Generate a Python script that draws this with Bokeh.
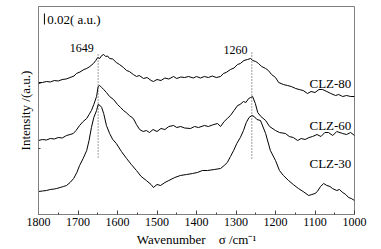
from bokeh.plotting import figure
from bokeh.models import Range1d, FixedTicker, Label, Title
from bokeh.embed import file_html
from bokeh.resources import INLINE

# ---------------- data ----------------
wn_80 = [1800,1790,1780,1770,1760,1750,1740,1730,1720,1710,
         1704,1695,1685,1678,1670,1661,1655,1650,1645,1640,
         1635,1630,1625,1620,1612,1603,1595,1585,1577,1570,
         1560,1552,1545,1534,1525,1515,1509,1500,1490,1480,
         1470,1458,1450,1440,1430,1420,1408,1400,1390,1380,
         1370,1360,1350,1339,1332,1325,1314,1305,1296,1289,
         1280,1271,1263,1258,1250,1243,1235,1225,1218,1210,
         1200,1192,1180,1170,1160,1149,1140,1130,1119,1110,
         1100,1090,1081,1070,1060,1048,1040,1030,1020,1010,
         1000]
int_80 = [132,132,133,132.5,134,133.5,135,135.5,137,138.5,
          141,142.5,145,146,148,151,154,157,156,159,
          160,158,158.5,156,155.5,152,150,147,144,143,
          140,138,139,136,137,134,133,135,134,136.5,
          135.5,138,136,137.5,137,138,136.5,138,136.5,138,
          137,138.5,137,138,141,142,145,146.5,150,151,
          154,155,156,154,153,151,148,146,144,140,
          137,132,130,129,128,126,125,124,121,123,
          122,125,125,123,121,119,120,118,119,118,
          118]

wn_60 = [1800,1790,1780,1770,1760,1750,1740,1729,1720,1712,
         1705,1696,1687,1678,1672,1666,1660,1653,1649,1645,
         1640,1635,1628,1620,1610,1600,1592,1585,1578,1570,
         1560,1552,1544,1535,1527,1519,1510,1500,1490,1480,
         1470,1458,1450,1440,1430,1415,1405,1395,1380,1370,
         1360,1347,1339,1330,1322,1314,1305,1296,1290,1281,
         1275,1268,1263,1258,1251,1245,1237,1225,1215,1200,
         1190,1175,1165,1155,1144,1135,1125,1115,1106,1095,
         1085,1075,1066,1055,1045,1030,1020,1010,1000]
int_60 = [74,75,74.5,76,75.5,77,76.5,79,80,81,
          84,89,93,96,100,104,110,118,128,129,
          127,125,122,118,115,110,107,104,102,99,
          96,90,85,83,84,82,85,83,86,85,
          88,89,87,88,86.5,86,88,87,89,88,
          89.5,91,88,93,96,99,104,109,110,113,
          112,116,117,118,111,102,98,94,88,84,
          82,81,78,77,74,76,75,77,78,80,
          78,82,82,79,83,81,80,82,79]

wn_30 = [1800,1790,1780,1770,1760,1754,1745,1737,1729,1720,
         1711,1703,1696,1687,1678,1672,1666,1660,1653,1649,
         1644,1640,1635,1628,1620,1612,1603,1590,1577,1565,
         1552,1540,1527,1515,1509,1500,1491,1480,1470,1455,
         1441,1425,1410,1398,1385,1372,1355,1339,1330,1322,
         1314,1306,1298,1289,1281,1274,1267,1260,1254,1247,
         1238,1225,1213,1200,1190,1180,1167,1155,1142,1130,
         1116,1108,1100,1094,1086,1078,1070,1062,1056,1045,
         1038,1030,1022,1015,1008,1000]
int_30 = [23,23.5,24,25,25.5,26,27,28,29,32,
          36,42,49,56,64,74,87,97,104,110,
          109,107,101,89,81,75,71,63,56,50,
          44,38,34,30,27,30,29,32,34,37,
          39,40,41,42,44,44,45,46,49,52,
          58,64,71,77,84,92,97,99,98,95,
          94,81,64,54,44,39,34,30,26,23,
          19,20,21,23,28,31,29,28,26,24,
          25,22,20,17,16,14]

series_names = ["CLZ-80", "CLZ-60", "CLZ-30"]
series_label_y = [131, 89, 51]
peak_positions = [1649, 1260]
peak_labels = ["1649", "1260"]
x_ticks = [1800, 1700, 1600, 1500, 1400, 1300, 1200, 1100, 1000]
x_minor = [1750, 1650, 1550, 1450, 1350, 1250, 1150, 1050]
scale_bar_text = "0.02( a.u.)"

FONT = "Liberation Serif"

p = figure(width=373, height=247, output_backend="svg", toolbar_location=None,
           x_range=Range1d(1800, 1000), y_range=Range1d(0, 208),
           frame_width=316, frame_height=208,
           min_border_left=38, min_border_right=19, min_border_top=6, min_border_bottom=33)
p.grid.visible = False
p.outline_line_color = "#808080"
p.outline_line_width = 1
p.background_fill_color = "white"
p.border_fill_color = "white"

# axes
xa = p.xaxis[0]
xa.ticker = FixedTicker(ticks=x_ticks, minor_ticks=x_minor)
xa.major_tick_in = 4
xa.major_tick_out = 0
xa.minor_tick_in = 2
xa.minor_tick_out = 0
xa.axis_line_color = "#808080"
xa.major_tick_line_color = "#404040"
xa.minor_tick_line_color = "#404040"
xa.major_label_text_font = FONT
xa.major_label_text_font_size = "12px"
xa.major_label_text_color = "black"
xa.major_label_standoff = 3
xa.axis_label = "Wavenumber\u2003σ /cm⁻¹"
xa.axis_label_text_font = FONT
xa.axis_label_text_font_size = "13px"
xa.axis_label_text_font_style = "normal"
xa.axis_label_text_color = "black"
xa.axis_label_standoff = 3

ya = p.yaxis[0]
ya.ticker = FixedTicker(ticks=[66, 131], minor_ticks=[])
ya.major_tick_in = 2
ya.major_tick_out = 0
ya.major_label_overrides = {66: "", 131: ""}
ya.major_label_standoff = 11
ya.axis_line_color = "#808080"
ya.major_tick_line_color = "#404040"

# y-axis title (shifted upward like the original)
p.add_layout(Title(text="Intensity /(a.u.)", align="center", offset=13, standoff=12,
                   text_font=FONT, text_font_size="13px", text_font_style="normal",
                   text_color="black"), "left")

# curves
for wn, iv in ((wn_80, int_80), (wn_60, int_60), (wn_30, int_30)):
    p.line(wn, iv, line_color="black", line_width=1)

# peak marker dotted lines
p.segment(x0=peak_positions, y0=[57, 56], x1=peak_positions, y1=[162, 162],
          line_color="#404040", line_width=1, line_dash="1 2")

for pos, lab, yy in zip(peak_positions, peak_labels, [167, 165]):
    p.add_layout(Label(x=pos + 11, y=yy, text=lab, text_align="right", text_baseline="middle",
                       text_font=FONT, text_font_size="12px", text_color="black"))

for name, yy in zip(series_names, series_label_y):
    p.add_layout(Label(x=1008, y=yy, text=name, text_align="right", text_baseline="middle",
                       text_font=FONT, text_font_size="13px", text_color="black"))

# scale bar
p.segment(x0=[1785], y0=[190], x1=[1785], y1=[201], line_color="black", line_width=1)
p.add_layout(Label(x=1778, y=195.5, text=scale_bar_text, text_align="left", text_baseline="middle",
                   text_font=FONT, text_font_size="13px", text_color="black"))

open("out.html", "w").write(file_html(p, INLINE))
